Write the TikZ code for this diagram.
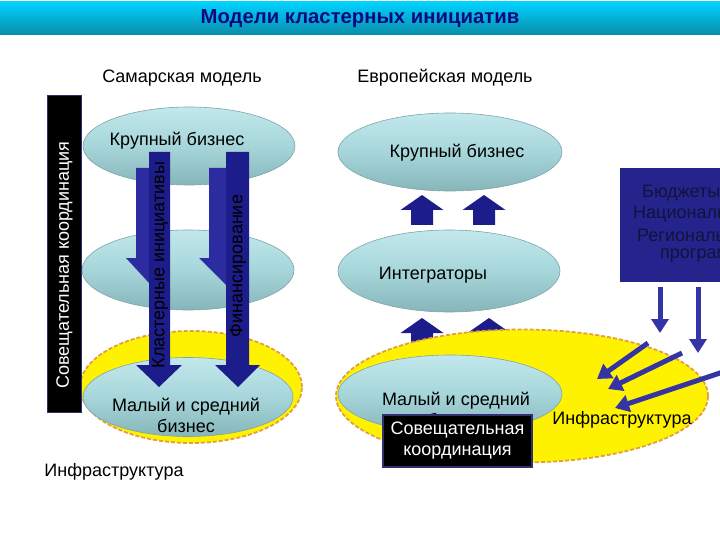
\documentclass[tikz,border=0pt]{standalone}
\usepackage{fontspec}
\setmainfont{Liberation Sans}
\usetikzlibrary{shapes.geometric,arrows.meta}
\definecolor{navy}{HTML}{0A0A80}
\definecolor{barTop}{HTML}{00D2FF}
\definecolor{barBot}{HTML}{0A8CAA}
\definecolor{discTop}{HTML}{C2E8EC}
\definecolor{discMid}{HTML}{A6D6DA}
\definecolor{discBot}{HTML}{86B6BA}
\definecolor{discEdge}{HTML}{7FA4A8}
\definecolor{yelEdge}{HTML}{E0A040}
\definecolor{arrFront}{HTML}{1C1C8A}
\definecolor{arrSide}{HTML}{2C2CA0}
\definecolor{thinArr}{HTML}{3434A4}
\definecolor{budgetBlue}{HTML}{24248C}
\definecolor{budgetText}{HTML}{12123C}
\definecolor{barEdge}{HTML}{303070}
\begin{document}
\begin{tikzpicture}[x=1pt,y=-1pt,
  lbl/.style={font=\fontsize{18}{21}\selectfont, inner sep=0pt, align=center},
  disc/.style={ellipse, inner sep=0pt, top color=discTop, bottom color=discBot, middle color=discMid, draw=discEdge, line width=0.6pt},
  yel/.style={ellipse, inner sep=0pt, fill=yellow, draw=yelEdge, dash pattern=on 4pt off 2pt, line width=1.8pt},
  thinarrow/.style={draw=thinArr, line width=5pt, -{Triangle[length=14pt,width=17pt]}},
  uparrow/.pic={\fill[arrFront] (-21.5,15) -- (0,0) -- (21.5,15) -- (11,15) -- (11,30) -- (-11,30) -- (-11,15) -- cycle;}
]
\useasboundingbox (0,0) rectangle (720,540);
\clip (0,0) rectangle (720,540);
\fill[white] (0,0) rectangle (720,540);
% title bar
\shade[top color=barTop, bottom color=barBot] (0,2) rectangle (720,35);
\node[font=\fontsize{20.3}{23}\selectfont\bfseries, text=navy, inner sep=0pt] (title) at (360,19) {Модели кластерных инициатив};
\node[lbl] (samara) at (182,78) {Самарская модель};
\node[lbl] (europe) at (445,78) {Европейская модель};

% ---------- left model ----------
\node[disc, minimum width=212pt, minimum height=78pt] (lbig) at (189,146) {};
\node[lbl] (lbigT) at (177,141) {Крупный бизнес};
\node[disc, minimum width=212pt, minimum height=80pt] (lint) at (188,270) {};
\node[yel, minimum width=222pt, minimum height=112pt] (linf) at (191,387) {};
\node[disc, minimum width=210pt, minimum height=79pt] (lsmb) at (188,397) {};
\node[lbl] (lsmbT) at (186,415) {Малый и средний\\бизнес};
% big arrows
\fill[arrSide] (136,168) -- (149,168) -- (149,283) -- (126,258) -- (136,258) -- cycle;
\fill[arrFront] (149,152) -- (170,152) -- (170,365) -- (182,365) -- (159,387) -- (136,365) -- (149,365) -- cycle;
\fill[arrSide] (209,168) -- (226,168) -- (226,285) -- (199,258) -- (209,258) -- cycle;
\fill[arrFront] (226,152) -- (249,152) -- (249,365) -- (260,365) -- (238,387) -- (215,365) -- (226,365) -- cycle;
\node[lbl, rotate=90] (clust) at (160,265) {Кластерные инициативы};
\node[lbl, rotate=90] (fin) at (238,266) {Финансирование};
% coordination bar
\draw[fill=black, draw=barEdge, line width=1.5pt] (47.5,95.5) rectangle (81.5,412.5);
\node[lbl, rotate=90, text=white] (coordL) at (64.5,265) {Совещательная координация};
\node[lbl] (infL) at (114,472) {Инфраструктура};

% ---------- right model ----------
\node[disc, minimum width=224pt, minimum height=78pt] (rbig) at (450,152) {};
\node[lbl] (rbigT) at (457,153) {Крупный бизнес};
\pic at (422,195) {uparrow};
\pic at (484,195) {uparrow};
\node[disc, minimum width=222pt, minimum height=82pt] (rint) at (449,271) {};
\node[lbl] (rintT) at (433,275) {Интеграторы};
\pic at (422,318) {uparrow};
\pic at (489,318) {uparrow};
\node[yel, minimum width=372pt, minimum height=133pt] (rinf) at (522,396) {};
\node[disc, minimum width=224pt, minimum height=78pt] (rsmb) at (450,394) {};
\node[lbl] (rsmbT) at (456,409) {Малый и средний\\бизнес};
\node[lbl, fill=black, draw=barEdge, line width=1.5pt, text=white, minimum width=149pt, minimum height=52pt] (coordR) at (457.5,441) {Совещательная\\координация};
\node[lbl] (infR) at (622,420) {Инфраструктура};

% budget box
\node[fill=budgetBlue, minimum width=124pt, minimum height=114pt, inner sep=0pt] (budget) at (682,225) {};
\begin{scope}[every node/.style={font=\fontsize{18}{21}\selectfont, text=budgetText, inner sep=0pt, anchor=west}]
\node (b1) at (642,193) {Бюджеты};
\node (b2) at (633,214) {Национальн};
\node (b3) at (637,235) {Региональ};
\node (b4) at (660,256) {програм};
\end{scope}
% thin arrows
\coordinate (v1s) at (660,287); \coordinate (v1e) at (660,333);
\coordinate (v2s) at (698,287); \coordinate (v2e) at (698,353);
\coordinate (d1s) at (648,343); \coordinate (d1e) at (597,379);
\coordinate (d2s) at (682,353); \coordinate (d2e) at (608,389);
\coordinate (d3s) at (726,371); \coordinate (d3e) at (615,408);
\draw[thinarrow] (v1s) -- (v1e);
\draw[thinarrow] (v2s) -- (v2e);
\draw[thinarrow] (d1s) -- (d1e);
\draw[thinarrow] (d2s) -- (d2e);
\draw[thinarrow] (d3s) -- (d3e);
\end{tikzpicture}
\end{document}
